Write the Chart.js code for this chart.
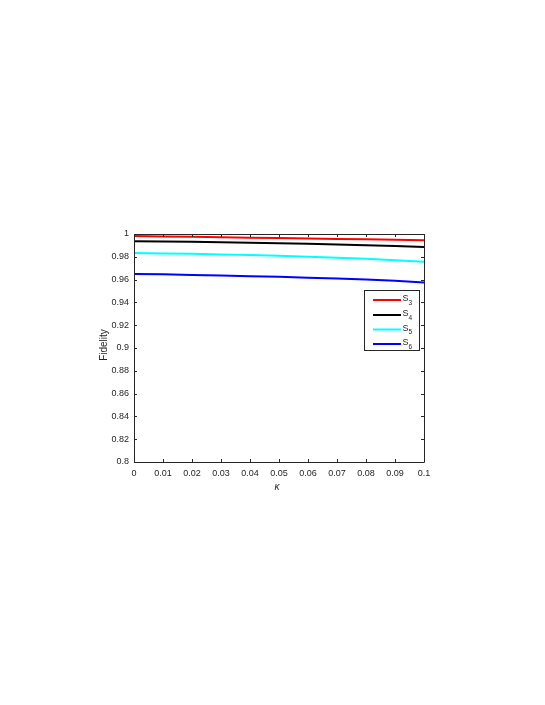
<!DOCTYPE html>
<html>
<head>
<meta charset="utf-8">
<script src="https://cdn.jsdelivr.net/npm/chart.js@4.4.1/dist/chart.umd.min.js"></script>
<style>
html,body{margin:0;padding:0;background:#fff;}
#wrap{width:545px;height:705px;position:relative;}
</style>
</head>
<body>
<div id="wrap"><canvas id="c" width="545" height="705"></canvas></div>
<script>
const kappa = [0, 0.01, 0.02, 0.03, 0.04, 0.05, 0.06, 0.07, 0.08, 0.09, 0.1];
const S3 = [0.9982, 0.9979, 0.9975, 0.9972, 0.9968, 0.9965, 0.9961, 0.9957, 0.9953, 0.9949, 0.9945];
const S4 = [0.9937, 0.9934, 0.9931, 0.9927, 0.9923, 0.9919, 0.9914, 0.9908, 0.9901, 0.9894, 0.9886];
const S5 = [0.9833, 0.9830, 0.9826, 0.9821, 0.9815, 0.9809, 0.9801, 0.9792, 0.9782, 0.9770, 0.9756];
const S6 = [0.9650, 0.9646, 0.9641, 0.9636, 0.9630, 0.9624, 0.9617, 0.9609, 0.9600, 0.9589, 0.9575];
const seriesLabels = ['S3', 'S4', 'S5', 'S6'];
const seriesColors = ['#ff0000', '#000000', '#00ffff', '#0000ff'];
const xTicks = [0, 0.01, 0.02, 0.03, 0.04, 0.05, 0.06, 0.07, 0.08, 0.09, 0.1];
const yTicks = [0.8, 0.82, 0.84, 0.86, 0.88, 0.9, 0.92, 0.94, 0.96, 0.98, 1];
const xTitle = 'κ';
const yTitle = 'Fidelity';

const AX = '#262626';
const FONT = '"Liberation Sans", Arial, sans-serif';

function fmt(v){ return String(parseFloat(v.toFixed(4))); }

const datasets = [S3, S4, S5, S6].map((arr, i) => ({
  label: seriesLabels[i],
  data: arr.map((y, j) => ({x: kappa[j], y})),
  borderColor: seriesColors[i],
  backgroundColor: seriesColors[i],
  borderWidth: 2,
  pointRadius: 0,
  tension: 0,
  fill: false
}));

const boxPlugin = {
  id: 'box',
  afterDatasetsDraw(chart){
    const ctx = chart.ctx;
    const a = chart.chartArea;
    const xs = chart.scales.x, ys = chart.scales.y;
    ctx.save();
    ctx.strokeStyle = AX;
    ctx.lineWidth = 1;
    ctx.beginPath();
    ctx.rect(Math.round(a.left)+0.5, Math.round(a.top)+0.5, Math.round(a.right-a.left), Math.round(a.bottom-a.top));
    ctx.stroke();
    const L = 3;
    ctx.beginPath();
    xTicks.forEach(v => {
      const px = Math.round(xs.getPixelForValue(v)) + 0.5;
      ctx.moveTo(px, a.bottom); ctx.lineTo(px, a.bottom - L);
      ctx.moveTo(px, a.top); ctx.lineTo(px, a.top + L);
    });
    yTicks.forEach(v => {
      const py = Math.round(ys.getPixelForValue(v)) + 0.5;
      ctx.moveTo(a.left, py); ctx.lineTo(a.left + L, py);
      ctx.moveTo(a.right, py); ctx.lineTo(a.right - L, py);
    });
    ctx.stroke();
    // axis titles
    ctx.fillStyle = AX;
    ctx.font = 'italic 10px ' + FONT;
    ctx.textAlign = 'center';
    ctx.textBaseline = 'middle';
    ctx.fillText(xTitle, (a.left + a.right)/2 - 2, 487);
    ctx.save();
    ctx.translate(104, 345);
    ctx.rotate(-Math.PI/2);
    ctx.font = '10px ' + FONT;
    ctx.fillText(yTitle, 0, 0);
    ctx.restore();
    // legend
    const bx = 364.5, by = 290.5, bw = 55, bh = 60;
    ctx.fillStyle = '#ffffff';
    ctx.fillRect(bx, by, bw, bh);
    ctx.strokeStyle = AX;
    ctx.lineWidth = 1;
    ctx.strokeRect(bx, by, bw, bh);
    const rows = [300, 315, 329.5, 344];
    chart.data.datasets.forEach((ds, i) => {
      const yy = rows[i];
      ctx.strokeStyle = ds.borderColor;
      ctx.lineWidth = 2;
      ctx.beginPath();
      ctx.moveTo(373, yy); ctx.lineTo(401, yy);
      ctx.stroke();
      ctx.fillStyle = AX;
      ctx.textAlign = 'left';
      ctx.textBaseline = 'middle';
      ctx.font = '9px ' + FONT;
      const main = ds.label.charAt(0), sub = ds.label.slice(1);
      ctx.fillText(main, 402.5, yy - 1);
      const w = ctx.measureText(main).width;
      ctx.font = '6.5px ' + FONT;
      ctx.fillText(sub, 402.5 + w, yy + 3);
    });
    ctx.restore();
  }
};

new Chart(document.getElementById('c'), {
  type: 'line',
  data: { datasets },
  options: {
    responsive: false,
    animation: false,
    devicePixelRatio: 1,
    layout: { padding: { left: 0, top: 234, right: 121, bottom: 0 } },
    plugins: { legend: { display: false }, tooltip: { enabled: false } },
    scales: {
      x: {
        type: 'linear', min: 0, max: 0.1,
        afterFit(s){ s.height = 243; },
        afterBuildTicks(s){ s.ticks = xTicks.map(v => ({value: v})); },
        grid: { display: false, drawTicks: false },
        border: { display: false },
        ticks: { color: AX, font: { family: FONT, size: 9 }, padding: 6, maxRotation: 0, autoSkip: false,
                 callback: v => fmt(v) }
      },
      y: {
        type: 'linear', min: 0.8, max: 1,
        afterFit(s){ s.width = 134; },
        afterBuildTicks(s){ s.ticks = yTicks.map(v => ({value: v})); },
        grid: { display: false, drawTicks: false },
        border: { display: false },
        ticks: { color: AX, font: { family: FONT, size: 9 }, padding: 5, autoSkip: false,
                 callback: v => fmt(v) }
      }
    }
  },
  plugins: [boxPlugin]
});
</script>
</body>
</html>
